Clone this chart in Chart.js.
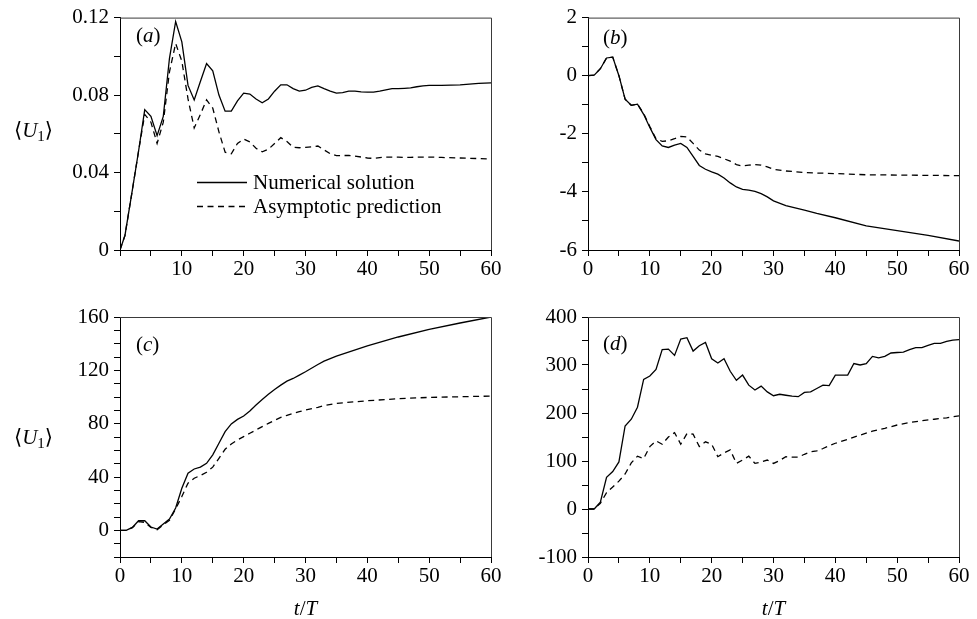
<!DOCTYPE html>
<html>
<head>
<meta charset="utf-8">
<script src="https://cdn.jsdelivr.net/npm/chart.js@4.4.1/dist/chart.umd.min.js"></script>
<style>
  html, body { margin: 0; padding: 0; background: #fff; }
  body { width: 977px; height: 619px; position: relative; overflow: hidden; }
  canvas { position: absolute; }
</style>
</head>
<body>
<canvas id="ca" width="510" height="290" style="left:0;top:0"></canvas>
<canvas id="cb" width="467" height="290" style="left:510px;top:0"></canvas>
<canvas id="cc" width="510" height="329" style="left:0;top:290px"></canvas>
<canvas id="cd" width="467" height="329" style="left:510px;top:290px"></canvas>
<script>
// ---------- data ----------
const tA   = [0,0.8,2,3,4,5,6,7,8,9,10,11,12,13,14,15,16,17,18,19,20,21,22,23,24,25,26,27,28,29,30,31,32,33,34,35,36,37,38,39,40,41,42,43,44,45,46,47,48,49,50,52,55,58,60];
const numA = [0,0.0075,0.031,0.051,0.0725,0.069,0.059,0.069,0.099,0.118,0.1075,0.085,0.0775,0.087,0.0963,0.0925,0.080,0.0717,0.0717,0.077,0.081,0.0805,0.078,0.076,0.078,0.082,0.0853,0.0853,0.0833,0.082,0.0825,0.084,0.0847,0.0833,0.082,0.081,0.0813,0.082,0.082,0.0817,0.0815,0.0815,0.082,0.0827,0.0833,0.0833,0.0835,0.0837,0.0843,0.0847,0.085,0.085,0.0853,0.086,0.0863];
const asyA = [0,0.0075,0.031,0.051,0.070,0.066,0.055,0.066,0.092,0.1067,0.0975,0.078,0.063,0.070,0.0775,0.0733,0.061,0.0505,0.0497,0.055,0.0573,0.0558,0.0525,0.0507,0.052,0.055,0.058,0.056,0.053,0.0528,0.053,0.0533,0.0537,0.0517,0.0497,0.0487,0.0488,0.0488,0.0485,0.048,0.0475,0.0473,0.0477,0.048,0.048,0.048,0.0478,0.0478,0.048,0.048,0.048,0.0478,0.0475,0.0472,0.047];

const tB   = [0,1,2,3,4,5,6,7,8,9,10,11,12,13,14,15,16,17,18,19,20,21,22,23,24,25,26,27,28,29,30,32,35,37,40,45,50,55,60];
const numB = [0,0.02,0.24,0.61,0.64,0.0,-0.81,-1.02,-0.98,-1.33,-1.78,-2.2,-2.42,-2.47,-2.39,-2.33,-2.47,-2.78,-3.09,-3.22,-3.31,-3.39,-3.52,-3.69,-3.83,-3.91,-3.94,-3.98,-4.06,-4.17,-4.31,-4.47,-4.63,-4.74,-4.89,-5.17,-5.33,-5.5,-5.69];
const asyB = [0,0.02,0.24,0.61,0.64,0.0,-0.81,-1.02,-0.98,-1.3,-1.75,-2.17,-2.26,-2.24,-2.17,-2.09,-2.11,-2.33,-2.56,-2.69,-2.74,-2.78,-2.86,-2.94,-3.06,-3.11,-3.08,-3.06,-3.08,-3.14,-3.22,-3.28,-3.33,-3.35,-3.37,-3.41,-3.42,-3.43,-3.44];

const tC   = [0,1,2,3,4,5,6,7,8,9,10,11,12,13,14,15,16,17,18,19,20,21,22,23,24,25,26,27,28,29,30,32,33,35,40,45,50,55,60];
const numC = [0,0,2.2,7.2,7.2,2.5,1,4.7,8.5,16.7,31.6,42.9,46,47.4,50.3,56.6,65.3,74,79.8,83.2,85.7,89.5,94,98.2,102,105.7,108.9,111.9,113.9,116.4,118.9,124.4,126.9,130.6,138.3,145,150.8,155.5,160];
const asyC = [0,0,2,6.5,6,2.2,0.5,4.2,7.5,16,25.4,35.4,39.1,41.1,43.6,47.4,54,60.8,64.8,67.8,70.3,72.8,75.3,77.8,80.2,82.5,84.7,86.2,87.7,89,90.2,92.3,93.5,95.2,97.2,98.7,99.7,100.2,100.7];

const tD    = [0,1,2,3,4,5,6,7,8,9,10,11,12,13,14,15,16,17,18,19,20,21,22,23,24,25,26,27,28,29,30,31,32,33,34,35,36,37,38,39,40,41,42,43,44,45,46,47,48,49,50,51,52,53,54,55,56,57,58,59,60];
const numD  = [0,0,14,66,78,98,173,187,212,270,277,291,332,333,320,354,357,329,340,347,313,304,313,287,268,279,258,248,256,244,236,239,237,235,234,243,244,251,258,257,279,279,279,303,300,303,318,315,318,325,326,327,332,336,336,341,345,345,349,352,353];
const tDa   = [0,1,2,3,4,5,6,7,8,9,10,11,12,13,14,15,16,17,18,19,20,21,22,23,24,25,26,27,28,29,30,31,32,33,34,35,36,37,38,39,40,42,44,46,48,50,52,54,56,58,60];
const asyD  = [0,0,12,34,46,58,73,96,110,105,130,142,135,150,159,135,157,156,130,140,135,109,117,123,95,102,110,95,98,102,95,101,109,108,108,114,119,121,126,132,137,145,154,162,168,175,180,184,187,190,194];

const xTickStep = 5;
const legendLabels = ['Numerical solution', 'Asymptotic prediction'];
const panelLetters = ['a', 'b', 'c', 'd'];

// ---------- helpers ----------
const SERIF = "'Liberation Serif','Times New Roman','DejaVu Serif',serif";
Chart.defaults.font.family = SERIF;
Chart.defaults.font.size = 21;
Chart.defaults.color = '#000';

function pts(xs, ys) { return xs.map((x, i) => ({ x: x, y: ys[i] })); }

function drawRich(ctx, parts, x, y) {
  // parts: [text, italic, size, dy]
  let cx = x;
  for (const p of parts) {
    ctx.font = (p[1] ? 'italic ' : '') + p[2] + 'px ' + SERIF;
    ctx.fillText(p[0], cx, y + (p[3] || 0));
    cx += ctx.measureText(p[0]).width;
  }
  return cx;
}
function richWidth(ctx, parts) {
  let w = 0;
  for (const p of parts) {
    ctx.font = (p[1] ? 'italic ' : '') + p[2] + 'px ' + SERIF;
    w += ctx.measureText(p[0]).width;
  }
  return w;
}

const decor = {
  id: 'decor',
  afterDraw(chart, args, o) {
    const ctx = chart.ctx, a = chart.chartArea;
    ctx.save();
    // frame top & right
    ctx.strokeStyle = '#3a3a3a';
    ctx.lineWidth = 1;
    ctx.beginPath();
    ctx.moveTo(a.left, a.top + 0.5); ctx.lineTo(a.right + 0.5, a.top + 0.5);
    ctx.lineTo(a.right + 0.5, a.bottom);
    ctx.stroke();
    ctx.fillStyle = '#000';
    ctx.textBaseline = 'alphabetic';
    ctx.textAlign = 'left';
    // panel label
    drawRich(ctx, [['(', false, 21], [o.letter, true, 21], [')', false, 21]], o.lx, o.ly);
    // y title
    if (o.ytitle) {
      const yb = o.ytitleY;
      drawRich(ctx, [['\u27E8', false, 21], ['U', true, 21], ['1', false, 15, 4], ['\u27E9', false, 21]], 14, yb);
    }
    // x title
    if (o.xtitle) {
      const parts = [['t', true, 21], ['/', false, 21], ['T', true, 21]];
      const w = richWidth(ctx, parts);
      drawRich(ctx, parts, (a.left + a.right) / 2 - w / 2, o.xtitleY);
    }
    // legend
    if (o.legend) {
      const lx0 = 197, lx1 = 247, tx = 253;
      ctx.strokeStyle = '#000';
      ctx.lineWidth = 1.3;
      ctx.beginPath(); ctx.moveTo(lx0, 182.5); ctx.lineTo(lx1, 182.5); ctx.stroke();
      ctx.setLineDash([6, 4.5]);
      ctx.beginPath(); ctx.moveTo(lx0, 206.5); ctx.lineTo(lx1, 206.5); ctx.stroke();
      ctx.setLineDash([]);
      ctx.font = '21px ' + SERIF;
      ctx.fillText(legendLabels[0], tx, 189);
      ctx.fillText(legendLabels[1], tx, 213);
    }
    ctx.restore();
  }
};

function makeChart(id, p) {
  const ctx = document.getElementById(id);
  return new Chart(ctx, {
    type: 'line',
    data: {
      datasets: [
        { data: pts(p.tn, p.num), borderColor: '#000', borderWidth: 1.3, pointRadius: 0, tension: 0, fill: false },
        { data: pts(p.ta, p.asy), borderColor: '#000', borderWidth: 1.3, borderDash: [6, 4.5], pointRadius: 0, tension: 0, fill: false }
      ]
    },
    options: {
      responsive: false,
      animation: false,
      devicePixelRatio: 1,
      layout: { padding: { top: p.padTop, right: p.padRight, left: 0, bottom: 0 } },
      plugins: { legend: { display: false }, tooltip: { enabled: false }, decor: p.decor },
      scales: {
        x: {
          type: 'linear', min: 0, max: 60,
          afterFit(s) { s.height = p.xh; },
          ticks: {
            stepSize: xTickStep, autoSkip: false, maxRotation: 0, padding: 1,
            callback(v) {
              if (Math.round(v) % 10 !== 0) return '';
              if (p.skipZeroX && v === 0) return '';
              return String(v);
            }
          },
          grid: { drawOnChartArea: false, drawTicks: true, tickLength: 6, color: '#000' },
          border: { display: true, color: '#000', width: 1 }
        },
        y: {
          type: 'linear', min: p.ymin, max: p.ymax,
          afterFit(s) { s.width = p.yw; },
          afterBuildTicks(s) {
            const t = [];
            const n = Math.round((p.ymax - p.ymin) / p.ystep);
            for (let i = 0; i <= n; i++) t.push({ value: +(p.ymin + i * p.ystep).toFixed(6) });
            s.ticks = t;
          },
          ticks: {
            autoSkip: false, padding: 5,
            callback(v) { return p.ylabel(v); }
          },
          grid: { drawOnChartArea: false, drawTicks: true, tickLength: 6, color: '#000' },
          border: { display: true, color: '#000', width: 1 }
        }
      }
    },
    plugins: [decor]
  });
}

function every(v, step, fmt) {
  const k = v / step;
  if (Math.abs(k - Math.round(k)) > 1e-6) return '';
  return fmt(v);
}

makeChart('ca', {
  tn: tA, num: numA, ta: tA, asy: asyA,
  ymin: 0, ymax: 0.12, ystep: 0.02,
  ylabel: v => every(v, 0.04, x => x === 0 ? '0' : x.toFixed(2)),
  yw: 120, xh: 40, padTop: 10, padRight: 19, skipZeroX: true,
  decor: { letter: panelLetters[0], lx: 136, ly: 42, ytitle: true, ytitleY: 137, legend: true }
});
makeChart('cb', {
  tn: tB, num: numB, ta: tB, asy: asyB,
  ymin: -6, ymax: 2, ystep: 1,
  ylabel: v => every(v, 2, x => String(Math.round(x))),
  yw: 78, xh: 40, padTop: 10, padRight: 18,
  decor: { letter: panelLetters[1], lx: 93, ly: 44 }
});
makeChart('cc', {
  tn: tC, num: numC, ta: tC, asy: asyC,
  ymin: -20, ymax: 160, ystep: 10,
  ylabel: v => every(v, 40, x => String(Math.round(x))),
  yw: 120, xh: 62, padTop: 27, padRight: 19,
  decor: { letter: panelLetters[2], lx: 136, ly: 61, ytitle: true, ytitleY: 154, xtitle: true, xtitleY: 325 }
});
makeChart('cd', {
  tn: tD, num: numD, ta: tDa, asy: asyD,
  ymin: -100, ymax: 400, ystep: 50,
  ylabel: v => every(v, 100, x => String(Math.round(x))),
  yw: 78, xh: 62, padTop: 27, padRight: 18,
  decor: { letter: panelLetters[3], lx: 93, ly: 60, xtitle: true, xtitleY: 325 }
});
</script>
</body>
</html>
